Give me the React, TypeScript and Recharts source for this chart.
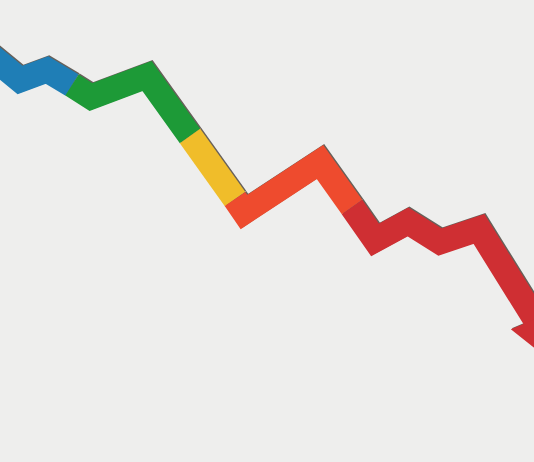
import { LineChart, Line, XAxis, YAxis } from 'recharts'

// horizontal position along the time axis (includes the points where the colour changes)
const steps = [-20, 20, 47, 72, 91, 147, 190, 235, 244, 320, 352, 375, 408, 440, 479, 535]
// level of the zigzag at each step
const levels = [415, 382, 392, 377, 365, 386, 326, 263, 250, 300, 255, 222, 240, 220, 233, 143]

// colour bands: each one runs from bandFrom[i] to bandTo[i] (indexes into steps)
const bandKeys = ['blue', 'green', 'yellow', 'orange', 'red']
const bandColors = ['#1f7eb6', '#1d9a37', '#f0bd2a', '#ee4b2e', '#cf2f33']
const bandFrom = [0, 3, 6, 7, 10]
const bandTo = [3, 6, 7, 10, 15]

const X_MIN = -20
const X_MAX = 560
const Y_MIN = 0
const Y_MAX = 462

const data = steps.map((s, i) => {
  const row: Record<string, number | null> = { step: s }
  bandKeys.forEach((k, b) => {
    row[k] = i >= bandFrom[b] && i <= bandTo[b] ? levels[i] : null
  })
  return row
})

export default function App() {
  return (
    <div style={{ position: 'fixed', left: 0, top: 0, width: 534, height: 462, overflow: 'hidden', background: '#eeeeed' }}>
      <div style={{ position: 'absolute', left: -20, top: 0 }}>
        <LineChart
          width={580}
          height={462}
          data={data}
          margin={{ top: 0, right: 0, bottom: 0, left: 0 }}
          style={{ filter: 'drop-shadow(1px -1px 0.5px rgba(30,20,10,0.65))' }}
        >
          <defs>
            <marker id="arrow" markerUnits="userSpaceOnUse" orient="auto" viewBox="-10 -30 90 60" markerWidth={90} markerHeight={60} refX={0} refY={0}>
              <path d="M -4 -26 L 68 0 L -4 26 L 0 0 Z" fill="#cf2f33" />
            </marker>
          </defs>
          <XAxis dataKey="step" type="number" domain={[X_MIN, X_MAX]} hide allowDataOverflow />
          <YAxis type="number" domain={[Y_MIN, Y_MAX]} hide allowDataOverflow />
          {bandKeys.map((k, b) => (
            <Line
              key={k}
              type="linear"
              dataKey={k}
              stroke={bandColors[b]}
              strokeWidth={25}
              strokeLinejoin="miter"
              strokeLinecap="butt"
              markerEnd={k === 'red' ? 'url(#arrow)' : undefined}
              dot={false}
              activeDot={false}
              isAnimationActive={false}
            />
          ))}
        </LineChart>
      </div>
    </div>
  )
}
